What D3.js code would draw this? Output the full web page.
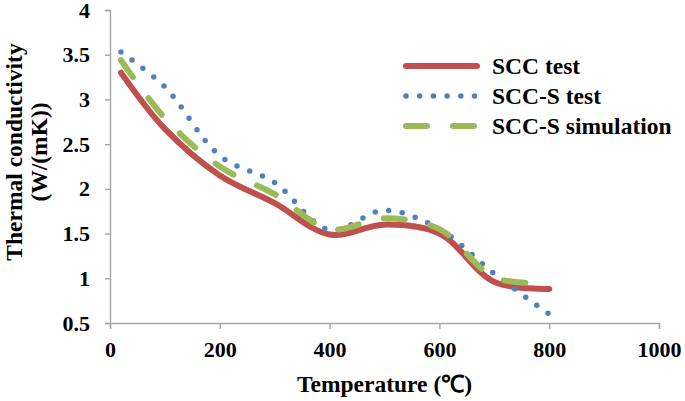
<!DOCTYPE html>
<html>
<head>
<meta charset="utf-8">
<script src="https://cdn.jsdelivr.net/npm/d3@7"></script>
<style>
    body { margin: 0; background: #fff; }
    svg text { font-family: "Liberation Serif", "Times New Roman", serif !important; font-weight: bold !important; fill: #000; }
    .tick text { font-size: 22px !important; }
</style>
</head>
<body>
<div id="chart"></div>
<script>
// temperatures (deg C) where the curves were read
var temps = [20, 100, 200, 300, 400, 500, 600, 700, 800];

var sccTest = [3.30, 2.67, 2.15, 1.84, 1.49, 1.60, 1.50, 0.96, 0.88];
var sccsTest = [3.53, 3.14, 2.37, 2.07, 1.54, 1.76, 1.55, 1.05, 0.60];
var sccsSim = [3.44, 2.79, 2.25, 1.94, 1.55, 1.67, 1.55, 1.01, 0.95];

var seriesNames = ["SCC test", "SCC-S test", "SCC-S simulation"];

var xTicks = [0, 200, 400, 600, 800, 1000];
var yTicks = [0.5, 1, 1.5, 2, 2.5, 3, 3.5, 4];

function init() {

    var w = 685;
    var h = 401;
    var margin = {top: 10, right: 26, bottom: 78, left: 110};

    var xScale = d3.scaleLinear()
                   .domain([0, 1000])
                   .range([margin.left, w - margin.right]);

    var yScale = d3.scaleLinear()
                   .domain([0.5, 4])
                   .range([h - margin.bottom, margin.top]);

    var svg = d3.select("#chart")
                .append("svg")
                .attr("width", w)
                .attr("height", h);

    // axes
    var xAxis = d3.axisBottom(xScale)
                  .tickValues(xTicks)
                  .tickSize(6)
                  .tickPadding(12)
                  .tickFormat(d3.format("d"));

    var yAxis = d3.axisLeft(yScale)
                  .tickValues(yTicks)
                  .tickSize(5)
                  .tickPadding(15)
                  .tickFormat(function(d) { return d; });

    svg.append("g")
       .attr("transform", "translate(0," + (h - margin.bottom) + ")")
       .call(xAxis)
       .attr("font-family", null)
       .attr("font-size", null);

    svg.append("g")
       .attr("transform", "translate(" + margin.left + ",0)")
       .call(yAxis)
       .attr("font-family", null)
       .attr("font-size", null);

    svg.selectAll(".domain, .tick line")
       .attr("stroke", "#a6a6a6")
       .attr("stroke-width", 1.4);

    // axis titles
    svg.append("text")
       .attr("x", (xScale(0) + xScale(1000)) / 2)
       .attr("y", 392)
       .attr("text-anchor", "middle")
       .style("font-size", "23.5px")
       .text("Temperature (\u2103)");

    var yTitle = svg.append("text")
                    .attr("transform", "translate(0,152) rotate(-90)")
                    .attr("text-anchor", "middle")
                    .style("font-size", "23.5px");
    yTitle.append("tspan").attr("x", 0).attr("y", 22).text("Thermal conductivity");
    yTitle.append("tspan").attr("x", 0).attr("y", 47).text("(W/(mK))");

    var line = d3.line()
                 .x(function(d) { return xScale(d[0]); })
                 .y(function(d) { return yScale(d[1]); })
                 .curve(d3.curveCatmullRom);

    var styles = [
        {color: "#C0504D", width: 6, dash: null},
        {color: "#4F81BD", width: 5.5, dash: "0 13.7"},
        {color: "#9BBB59", width: 6, dash: "21 26"}
    ];
    var allSeries = [sccTest, sccsTest, sccsSim];

    allSeries.forEach(function(vals, i) {
        var pts = temps.map(function(t, j) { return [t, vals[j]]; });
        svg.append("path")
           .datum(pts)
           .attr("d", line)
           .attr("fill", "none")
           .attr("stroke", styles[i].color)
           .attr("stroke-width", styles[i].width)
           .attr("stroke-linecap", "round")
           .attr("stroke-linejoin", "round")
           .attr("stroke-dasharray", styles[i].dash);
    });

    // legend
    var legend = svg.append("g");
    seriesNames.forEach(function(name, i) {
        var ly = 66 + i * 30;
        legend.append("line")
              .attr("x1", 406)
              .attr("x2", i == 1 ? 475 : 477)
              .attr("y1", ly)
              .attr("y2", ly)
              .attr("stroke", styles[i].color)
              .attr("stroke-width", styles[i].width)
              .attr("stroke-linecap", "round")
              .attr("stroke-dasharray", styles[i].dash);
        legend.append("text")
              .attr("x", 492)
              .attr("y", ly)
              .attr("dy", "0.33em")
              .style("font-size", "23.5px")
              .text(name);
    });
}

window.onload = init;
</script>
</body>
</html>
